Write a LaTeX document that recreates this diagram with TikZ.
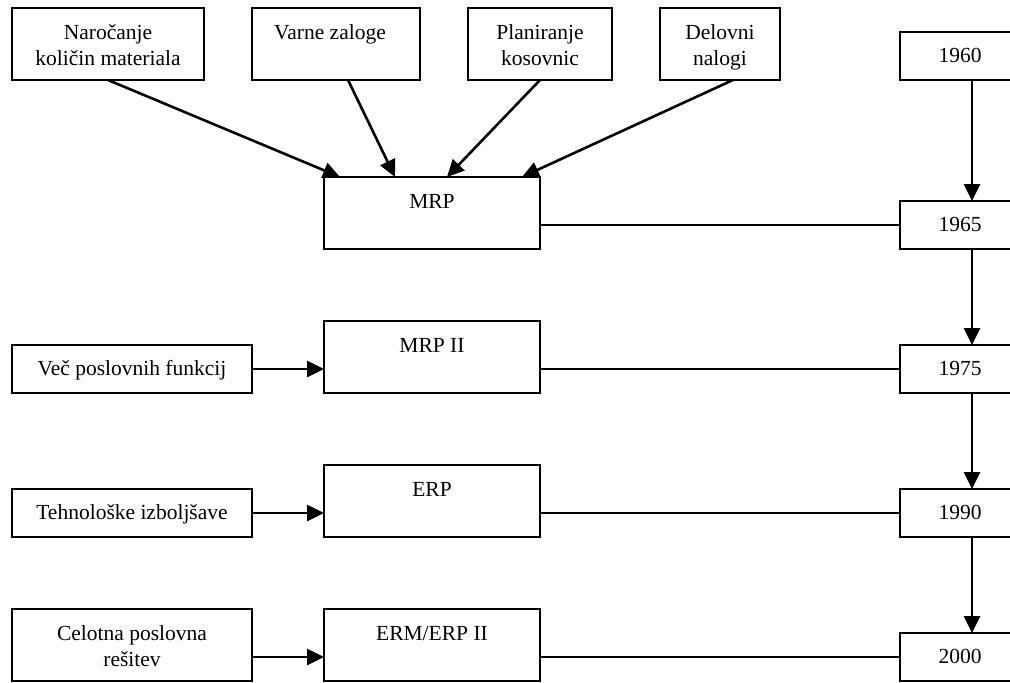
\documentclass[tikz,border=0pt]{standalone}
\usepackage{fontspec}
\setmainfont{Liberation Serif}
\usetikzlibrary{arrows.meta}

% text block of fixed size, set from the top of the box
\newcommand\toptext[3]{\parbox[c][#2][t]{#1}{\centering\rule{0pt}{31pt}#3}}

\begin{document}
\begin{tikzpicture}[x=1pt, y=-1pt,
    font=\fontsize{21.5}{26}\selectfont,
    box/.style={draw, line width=1.8pt, inner sep=0pt, outer sep=0pt, anchor=north west},
    onebox/.style={box, minimum height=48pt, text height=13.5pt, text depth=0pt},
    yearbox/.style={onebox, minimum width=120pt},
    arr/.style={line width=2.6pt, -{Triangle[length=17pt,width=16pt]}},
    link/.style={line width=1.8pt}]
  \clip (0,0) rectangle (1010,683);

  % requirements feeding MRP
  \node[box] (b1) at (12,8)  {\toptext{192pt}{72pt}{Naročanje\\količin materiala}};
  \node[box] (b2) at (252,8) {\toptext{168pt}{72pt}{Varne zaloge\hspace*{12pt}}};
  \node[box] (b3) at (468,8) {\toptext{144pt}{72pt}{Planiranje\\kosovnic}};
  \node[box] (b4) at (660,8) {\toptext{120pt}{72pt}{Delovni\\nalogi}};

  % system generations
  \node[box] (mrp)  at (324,177) {\toptext{216pt}{72pt}{MRP}};
  \node[box] (mrp2) at (324,321) {\toptext{216pt}{72pt}{MRP II}};
  \node[box] (erp)  at (324,465) {\toptext{216pt}{72pt}{ERP}};
  \node[box] (erm)  at (324,609) {\toptext{216pt}{72pt}{ERM/ERP II}};

  % driving factors
  \node[onebox, minimum width=240pt] (vec) at (12,345) {Več poslovnih funkcij};
  \node[onebox, minimum width=240pt] (teh) at (12,489) {Tehnološke izboljšave};
  \node[box] (cel) at (12,609) {\toptext{240pt}{72pt}{Celotna poslovna\\rešitev}};

  % timeline
  \node[yearbox] (y1960) at (900,32)  {1960};
  \node[yearbox] (y1965) at (900,201) {1965};
  \node[yearbox] (y1975) at (900,345) {1975};
  \node[yearbox] (y1990) at (900,489) {1990};
  \node[yearbox] (y2000) at (900,633) {2000};

  % arrows into MRP
  \draw[arr] (b1.south) -- ([xshift=-92pt]mrp.north);
  \draw[arr] ([xshift=12pt]b2.south) -- ([xshift=-37pt]mrp.north);
  \draw[arr] (b3.south) -- ([xshift=15pt]mrp.north);
  \draw[arr] ([xshift=13pt]b4.south) -- ([xshift=90pt]mrp.north);

  % factor arrows
  \draw[arr] (vec.east) -- (vec.east -| mrp2.west);
  \draw[arr] (teh.east) -- (teh.east -| erp.west);
  \draw[arr] (cel.east |- y2000.west) -- (erm.west |- y2000.west);

  % links to the timeline
  \draw[link] (y1965.west) -- (y1965.west -| mrp.east);
  \draw[link] (y1975.west) -- (y1975.west -| mrp2.east);
  \draw[link] (y1990.west) -- (y1990.west -| erp.east);
  \draw[link] (y2000.west) -- (y2000.west -| erm.east);

  % timeline arrows
  \draw[arr] ([xshift=12pt]y1960.south) -- ([xshift=12pt]y1965.north);
  \draw[arr] ([xshift=12pt]y1965.south) -- ([xshift=12pt]y1975.north);
  \draw[arr] ([xshift=12pt]y1975.south) -- ([xshift=12pt]y1990.north);
  \draw[arr] ([xshift=12pt]y1990.south) -- ([xshift=12pt]y2000.north);
\end{tikzpicture}
\end{document}
